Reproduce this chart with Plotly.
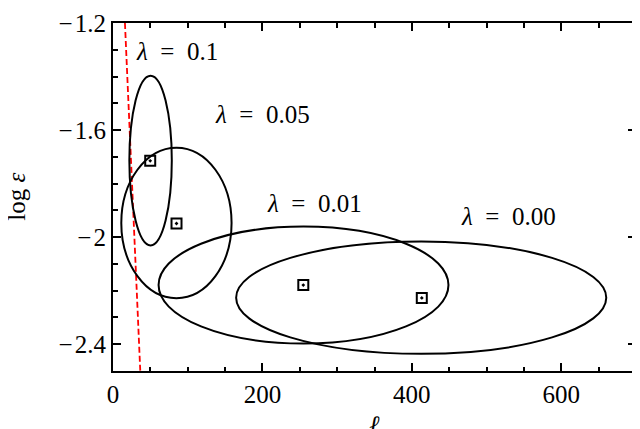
import plotly.graph_objects as go

# ---- data ----
lambda_labels = ["0.1", "0.05", "0.01", "0.00"]
center_l = [50.3, 84.9, 255.0, 412.5]          # ellipse centres, ell
center_loge = [-1.714, -1.947, -2.179, -2.226]  # ellipse centres, log eps
semi_l = [28.4, 73.8, 194.0, 247.7]             # semi-axis along ell
semi_loge = [0.317, 0.281, 0.2185, 0.210]       # semi-axis along log eps

best_l = [49.8, 85.0, 254.7, 413.3]             # best-fit markers
best_loge = [-1.715, -1.949, -2.179, -2.227]

label_l = [85.6, 200.0, 270.0, 529.0]           # label positions
label_loge = [-1.305, -1.540, -1.873, -1.922]

red_l = [16.0, 36.5]                            # red dashed limit line
red_loge = [-1.2, -2.5]

x_ticks = [0, 200, 400, 600]
x_ticktext = ["0", "200", "400", "600"]
y_ticks = [-2.4, -2.0, -1.6, -1.2]
y_ticktext = ["\u2212\u200a2.4", "\u2212\u200a2", "\u2212\u200a1.6", "\u2212\u200a1.2"]

FONT = "Liberation Serif"
FS = 25

fig = go.Figure()

# red dashed line
fig.add_trace(go.Scatter(
    x=red_l, y=red_loge, mode="lines",
    line=dict(color="#ff0000", width=1.8, dash="6px,3px"),
    showlegend=False, hoverinfo="skip"))

# ellipses as shapes in data coordinates
shapes = []
for cx, cy, ax, ay in zip(center_l, center_loge, semi_l, semi_loge):
    shapes.append(dict(type="circle", xref="x", yref="y",
                       x0=cx - ax, x1=cx + ax, y0=cy - ay, y1=cy + ay,
                       line=dict(color="black", width=2), fillcolor="rgba(0,0,0,0)",
                       layer="above"))

# best-fit markers
fig.add_trace(go.Scatter(
    x=best_l, y=best_loge, mode="markers",
    marker=dict(symbol="square-open-dot", size=10, color="black",
                line=dict(width=2, color="black")),
    showlegend=False, hoverinfo="skip"))

annotations = []
for lx, ly, t in zip(label_l, label_loge, lambda_labels):
    annotations.append(dict(
        x=lx, y=ly, xref="x", yref="y", showarrow=False,
        text="<i>\u03bb</i>\u2002=\u2002" + t,
        font=dict(family=FONT, size=FS, color="black"),
        xanchor="center", yanchor="middle"))

# axis titles
annotations.append(dict(
    x=-0.186, y=0.5, xref="paper", yref="paper", showarrow=False,
    text="log <i>\u03b5</i>", textangle=-90,
    font=dict(family=FONT, size=FS, color="black"),
    xanchor="center", yanchor="middle"))
annotations.append(dict(
    x=0.5, y=-0.108, xref="paper", yref="paper", showarrow=False,
    text="<i>\u2113</i>",
    font=dict(family=FONT, size=FS, color="black"),
    xanchor="center", yanchor="top"))

axis_common = dict(
    showgrid=False, zeroline=False, showline=True, linecolor="black",
    linewidth=2, mirror="allticks", ticks="inside", ticklen=8,
    tickwidth=1.5, tickcolor="black", ticklabeloverflow="allow",
    tickfont=dict(family=FONT, size=FS, color="black"),
)

# the page body adds an 8px offset, so the figure is 8px smaller
fig.update_layout(
    width=632, height=421,
    margin=dict(l=105, r=2, t=12, b=58),
    paper_bgcolor="white", plot_bgcolor="white",
    shapes=shapes, annotations=annotations,
    xaxis=dict(range=[0, 700], tickvals=x_ticks, ticktext=x_ticktext,
               minor=dict(dtick=50, ticks="inside", ticklen=4.5,
                          tickwidth=1.5, tickcolor="black", showgrid=False),
               **axis_common),
    yaxis=dict(range=[-2.5, -1.2], tickvals=y_ticks, ticktext=y_ticktext,
               minor=dict(dtick=0.1, tick0=-2.5, ticks="inside", ticklen=4.5,
                          tickwidth=1.5, tickcolor="black", showgrid=False),
               **axis_common),
)

fig.write_html("out.html")
